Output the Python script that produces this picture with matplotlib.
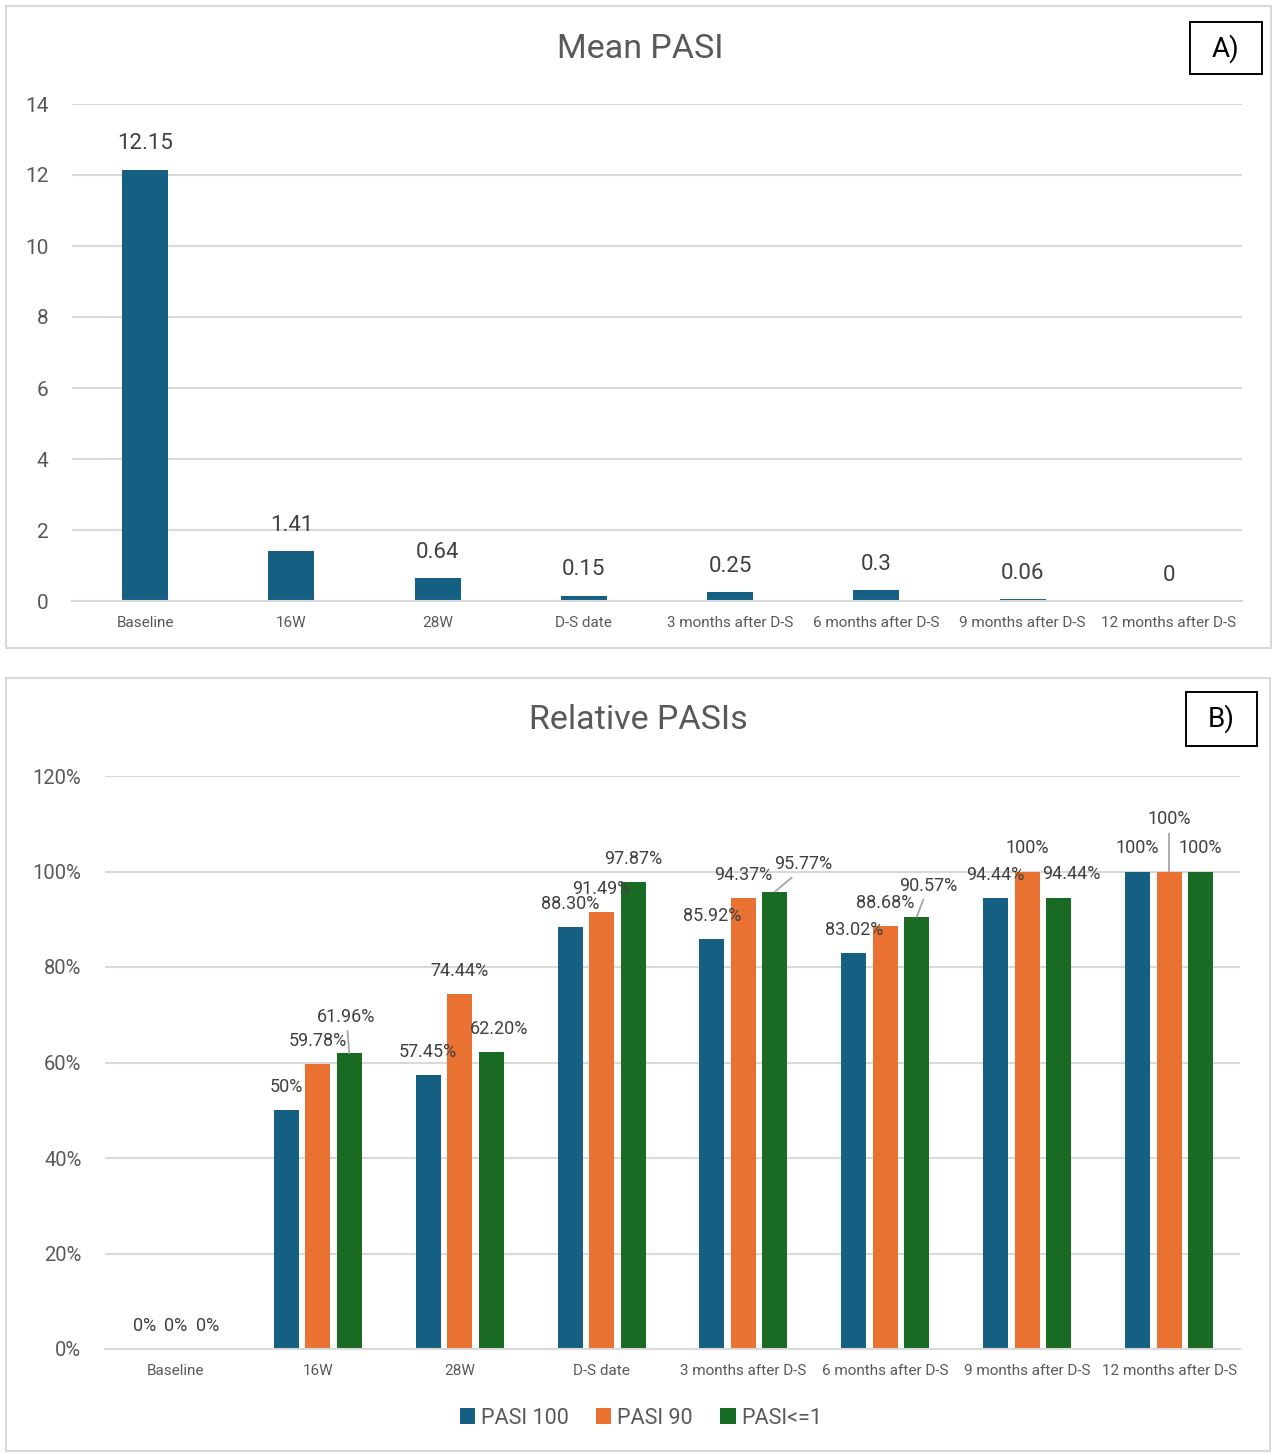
import matplotlib
matplotlib.use("Agg")
import matplotlib.pyplot as plt
from matplotlib.patches import Rectangle
import numpy as np

plt.rcParams['font.family'] = ['Roboto', 'DejaVu Sans']

# ---- data ----
categories = ["Baseline", "16W", "28W", "D-S date", "3 months after D-S",
              "6 months after D-S", "9 months after D-S", "12 months after D-S"]
mean_pasi = [12.15, 1.41, 0.64, 0.15, 0.25, 0.3, 0.06, 0]
mean_pasi_labels = ["12.15", "1.41", "0.64", "0.15", "0.25", "0.3", "0.06", "0"]

pasi100 = [0, 50, 57.45, 88.30, 85.92, 83.02, 94.44, 100]
pasi90 = [0, 59.78, 74.44, 91.49, 94.37, 88.68, 100, 100]
pasi_le1 = [0, 61.96, 62.20, 97.87, 95.77, 90.57, 94.44, 100]
pasi100_labels = ["0%", "50%", "57.45%", "88.30%", "85.92%", "83.02%", "94.44%", "100%"]
pasi90_labels = ["0%", "59.78%", "74.44%", "91.49%", "94.37%", "88.68%", "100%", "100%"]
pasi_le1_labels = ["0%", "61.96%", "62.20%", "97.87%", "95.77%", "90.57%", "94.44%", "100%"]
series_names = ["PASI 100", "PASI 90", "PASI<=1"]

# ---- style ----
BLUE, ORANGE, GREEN = "#156082", "#E97132", "#196B24"
GRID = "#D9D9D9"
TXT = "#595959"
LBL = "#404040"

W, H = 1272, 1453
fig = plt.figure(figsize=(W / 100, H / 100), dpi=100)


def fx(px):
    return px / W


def fy(py):
    return 1 - py / H


def frame(x0, y0, x1, y1, color, lw):
    fig.patches.append(Rectangle((fx(x0), fy(y1)), fx(x1 - x0), (y1 - y0) / H,
                                 transform=fig.transFigure, fill=False,
                                 edgecolor=color, lw=lw, zorder=5))


# panel frames
frame(6, 6, 1271, 648, GRID, 1.5)
frame(6, 678, 1270, 1451, GRID, 1.5)


def style_axes(ax):
    for s in ["top", "right", "left"]:
        ax.spines[s].set_visible(False)
    ax.spines["bottom"].set_color(GRID)
    ax.spines["bottom"].set_linewidth(1.5)
    ax.grid(axis="y", color=GRID, lw=1.5)
    ax.set_axisbelow(True)
    ax.tick_params(axis="both", length=0)
    ax.tick_params(axis="y", labelsize=15, labelcolor=TXT, pad=17)
    ax.tick_params(axis="x", labelsize=11, labelcolor=TXT, pad=10.5)


# ---- Panel A ----
axA = fig.add_axes([fx(72), fy(601), fx(1242 - 72), (601 - 104) / H])
x = np.arange(len(categories))
axA.bar(x, mean_pasi, width=0.315, color=BLUE)
for xi, v, lab in zip(x, mean_pasi, mean_pasi_labels):
    axA.annotate(lab, (xi, v), xytext=(0, 18.5), textcoords="offset points",
                 ha="center", va="center", fontsize=16, color=LBL)
axA.set_ylim(0, 14)
axA.set_yticks(range(0, 15, 2))
axA.set_xlim(-0.5, len(categories) - 0.5)
axA.set_xticks(x)
axA.set_xticklabels(categories)
style_axes(axA)
fig.text(fx(640), fy(49), "Mean PASI", ha="center", va="center",
         fontsize=24.5, color=TXT)
frame(1190, 22, 1262, 74, "black", 1.4)
fig.text(fx(1226), fy(49), "A)", ha="center", va="center", fontsize=20,
         color="black")

# ---- Panel B ----
axB = fig.add_axes([fx(105), fy(1349), fx(1240 - 105), (1349 - 776) / H])
bw = 0.176
off = 0.222
series = [pasi100, pasi90, pasi_le1]
labels = [pasi100_labels, pasi90_labels, pasi_le1_labels]
colors = [BLUE, ORANGE, GREEN]

# label nudges in pixels (dx, dy) relative to bar top; default (0, 23)
nudges = {(1, 2): (-3, 36, True), (2, 2): (8, 23, False),
          (4, 2): (28, 28, True), (5, 2): (11, 31, True),
          (6, 2): (13, 24, False), (7, 1): (0, 52, True)}

bars = []
for k, (vals, labs, c) in enumerate(zip(series, labels, colors)):
    pos = x + (k - 1) * off
    b = axB.bar(pos, vals, width=bw, color=c, label=series_names[k])
    bars.append(b)
    for i, (p, v, lab) in enumerate(zip(pos, vals, labs)):
        dx, dy, line = nudges.get((i, k), (0, 23, False))
        dxp, dyp = dx * 0.72, dy * 0.72
        if line:
            axB.annotate("", (p, v), xytext=(dxp * 0.6, dyp - 10),
                         textcoords="offset points",
                         arrowprops=dict(arrowstyle="-", color="#A6A6A6",
                                         lw=1.3, shrinkA=0, shrinkB=0))
        axB.annotate(lab, (p, v), xytext=(dxp, dyp),
                     textcoords="offset points", ha="center", va="center",
                     fontsize=13, color=LBL)

axB.set_ylim(0, 120)
axB.set_yticks(range(0, 121, 20))
axB.set_yticklabels([f"{t}%" for t in range(0, 121, 20)])
axB.set_xlim(-0.5, len(categories) - 0.5)
axB.set_xticks(x)
axB.set_xticklabels(categories)
style_axes(axB)
axB.tick_params(axis="y", labelsize=14.5)
fig.text(fx(638), fy(720), "Relative PASIs", ha="center", va="center",
         fontsize=24.5, color=TXT)
frame(1186, 692, 1257, 746, "black", 1.4)
fig.text(fx(1221.5), fy(719), "B)", ha="center", va="center", fontsize=20,
         color="black")

leg = fig.legend(handles=bars, labels=series_names, loc="center",
                 bbox_to_anchor=(fx(641), fy(1418)), ncol=3, frameon=False,
                 fontsize=15.5, handlelength=0.7, handleheight=0.7,
                 handletextpad=0.25, columnspacing=1.3)
for t in leg.get_texts():
    t.set_color(TXT)

fig.savefig("out.png", dpi=100)
